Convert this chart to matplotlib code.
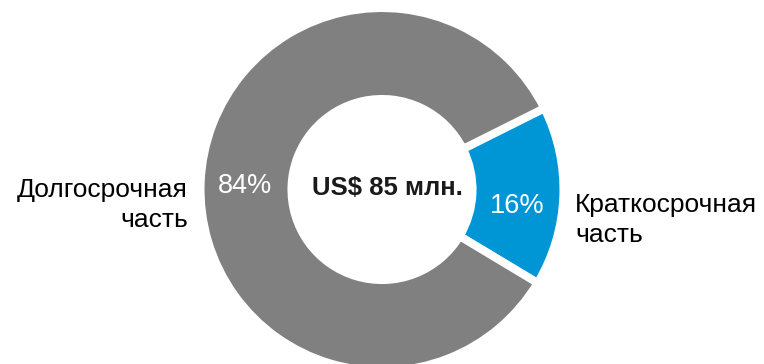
import matplotlib.pyplot as plt

# debt structure split
categories = ["Краткосрочная\nчасть", "Долгосрочная\nчасть"]
shares = [16, 84]
colors = ["#0096D6", "#808080"]
total_label = "US$ 85 млн."

plt.rcParams['font.family'] = ['Liberation Sans', 'DejaVu Sans']

fig = plt.figure(figsize=(7.64, 3.64), dpi=100)
ax = fig.add_axes([0, 0, 1, 1])

# work in pixel-like units so the ring sits where we want it
cx, cy = 382, 174.5
wedges, _ = ax.pie(shares, colors=colors, startangle=-31, counterclock=True,
                   center=(cx, cy), radius=181.5,
                   wedgeprops=dict(width=91, edgecolor='white', linewidth=5.8))

ax.set_xlim(0, 764)
ax.set_ylim(0, 364)
ax.set_aspect('equal')
ax.axis('off')

# percentage labels inside the ring
ax.text(517, 364 - 206, f"{shares[0]}%", color='white', fontsize=19.5,
        ha='center', va='center')
ax.text(245, 364 - 186, f"{shares[1]}%", color='white', fontsize=19.5,
        ha='center', va='center')

# total in the hole
ax.text(387, 364 - 188, total_label, fontsize=18.5, fontweight='bold',
        color='#1a1a1a', ha='center', va='center')

# category names outside
ax.text(575, 364 - 220, categories[0], fontsize=19, ha='left', va='center',
        linespacing=1.3)
ax.text(188, 364 - 205, categories[1], fontsize=19, ha='right', va='center',
        multialignment='right', linespacing=1.3)

fig.savefig('out.png', dpi=100)
